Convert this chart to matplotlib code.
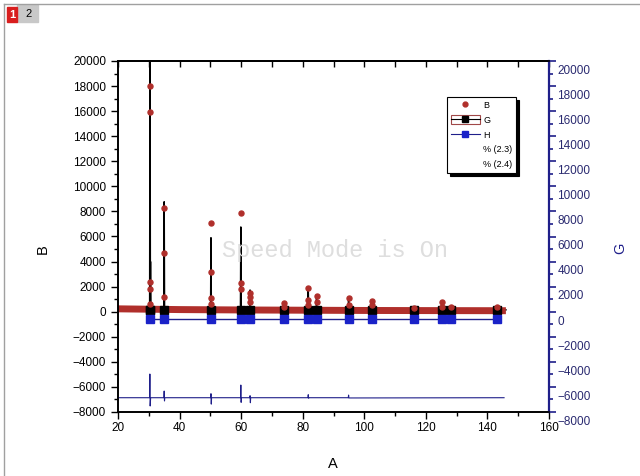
import matplotlib
matplotlib.use("Agg")
import matplotlib.pyplot as plt
from matplotlib.lines import Line2D
from matplotlib.patches import Rectangle, Patch
from matplotlib.legend_handler import HandlerTuple
from matplotlib.transforms import ScaledTranslation

plt.rcParams['font.family'] = ['Liberation Sans', 'DejaVu Sans']

# background level of the observed pattern (B)
bg_x = [20, 30, 40, 60, 80, 100, 120, 146]
bg_y = [230, 200, 170, 140, 120, 100, 90, 80]

# observed points at the reflections (B)
obs_x = [30.4, 30.4, 30.5, 30.5, 30.4,
         35.0, 35.0, 35.0,
         50.2, 50.2, 50.2, 50.2,
         59.9, 59.9, 59.9,
         62.9, 62.9, 62.9,
         73.8, 73.8,
         81.8, 81.8, 81.8,
         84.5, 84.5,
         94.9, 94.9,
         102.6, 102.6,
         116.2,
         125.3, 125.3,
         128.2,
         143.2]
obs_y = [18030, 15950, 2370, 1810, 600,
         8270, 4680, 1200,
         7070, 3170, 1090, 610,
         7870, 2290, 1810,
         1500, 1170, 770,
         720, 400,
         1860, 930, 530,
         1280, 800,
         1070, 530,
         880, 530,
         300,
         800, 400,
         400,
         400]

# calculated pattern (G): reflection positions and heights
peak_pos = [30.4, 30.55, 35.0, 50.2, 59.9, 62.9, 73.8, 81.8, 84.5, 94.9,
            102.6, 116.2, 125.3, 128.2, 143.2]
peak_calc = [21500, 4000, 8770, 5900, 6760, 1730, 700, 1800, 1330, 900,
             700, 250, 700, 400, 350]
calc_base = 150

# reflection markers (H)
hkl_pos = [30.4, 35.0, 50.2, 59.9, 62.9, 73.8, 81.8, 84.5, 94.9, 102.6,
           116.2, 125.3, 128.2, 143.2]
hkl_level = -610

# difference curve
diff_x = [20, 30.25, 30.35, 30.45, 30.6, 34.9, 35.0, 35.1, 35.2,
          50.1, 50.2, 50.3, 50.4, 59.8, 59.9, 60.0, 60.1,
          62.8, 62.9, 63.0, 63.1, 81.7, 81.8, 81.9, 82.0,
          94.8, 94.9, 95.0, 145.4]
diff_y = [-6860, -6860, -4970, -7520, -6860, -6860, -6330, -7120, -6860,
          -6860, -6540, -7370, -6860, -6860, -5850, -7230, -6860,
          -6860, -6700, -7260, -6860, -6860, -6620, -6900, -6860,
          -6860, -6650, -6880, -6860]

red = '#b02f2b'
navy = '#1f1f8a'
blue = '#1a22c8'

fig = plt.figure(figsize=(6.4, 4.76), dpi=100)
ax = fig.add_axes([118 / 640, 64 / 476, 431 / 640, 351 / 476])
ax2 = ax.twinx()

# G line built from the reflection list
calc_x, calc_y = [bg_x[0]], [calc_base]
for p, h in zip(peak_pos, peak_calc):
    calc_x += [p - 0.12, p, p + 0.12]
    calc_y += [calc_base, h, calc_base]
calc_x.append(bg_x[-1])
calc_y.append(calc_base)

ax.plot(calc_x, calc_y, color='black', lw=1.1, zorder=2)
ax.plot(bg_x, bg_y, color=red, lw=5, solid_capstyle='butt', zorder=2.5)
ax.plot(peak_pos, [calc_base] * len(peak_pos), ls='none', marker='s', ms=5.5,
        color='black', zorder=3)
ax.plot(obs_x, obs_y, ls='none', marker='o', ms=3.6, color=red, zorder=4)
ax.plot(hkl_pos, [hkl_level] * len(hkl_pos), color=navy, lw=1, marker='s',
        ms=6, mfc=blue, mec=blue, zorder=3)
ax.plot(diff_x, diff_y, color=navy, lw=0.8, zorder=3)

ax.set_xlim(20, 160)
ax.set_ylim(-8000, 20000)
ax2.set_ylim(-8000, 20000)

ax.set_xticks(range(20, 161, 20))
ax.set_xticks(range(30, 160, 20), minor=True)
ax.set_yticks(range(-8000, 20001, 2000))
ax.set_yticks(range(-7000, 20000, 2000), minor=True)
ax2.set_yticks(range(-8000, 20001, 2000))
ax2.set_yticks(range(-7000, 20000, 2000), minor=True)

ax.tick_params(axis='both', which='major', direction='out', length=5,
               width=1, labelsize=8.5, colors='black')
ax.tick_params(axis='both', which='minor', direction='out', length=3, width=1)
ax.tick_params(axis='x', pad=2)
ax2.tick_params(axis='y', which='major', direction='out', length=5, width=1.2,
                colors=navy, labelsize=8.5, labelcolor='#2a2a70', pad=1)
ax2.tick_params(axis='y', which='minor', direction='out', length=3, width=1.2,
                colors=navy)
for lab in ax2.get_yticklabels():
    lab.set_transform(lab.get_transform() +
                      ScaledTranslation(0, -6 / 72, fig.dpi_scale_trans))

top = ax.secondary_xaxis('top')
top.set_xticks(range(20, 161, 10))
top.tick_params(direction='in', length=4, width=1, labeltop=False)

for s in ax.spines.values():
    s.set_linewidth(1.2)
for s in ax2.spines.values():
    s.set_linewidth(1.2)
ax2.spines['right'].set_color(navy)
ax2.spines['right'].set_linewidth(1.6)
top.spines['top'].set_linewidth(1.2)

ax.set_xlabel('A', fontsize=10.5)
ax.xaxis.set_label_coords(0.499, -0.127)
ax.set_ylabel('B', fontsize=10.5)
ax.yaxis.set_label_coords(-0.158, 0.464)
ax2.set_ylabel('G', fontsize=10.5, color=navy)
ax2.yaxis.set_label_coords(1.148, 0.467)

# legend
h_b = Line2D([], [], ls='none', marker='o', ms=3.5, color=red)
h_g = (Patch(fc='none', ec='#a04848', lw=0.8),
       Line2D([], [], color='black', lw=0.8, marker='s', ms=5))
h_h = Line2D([], [], color=navy, lw=0.8, marker='s', ms=5,
             mfc=blue, mec=blue)
h_e1 = Line2D([], [], ls='none')
h_e2 = Line2D([], [], ls='none')
leg = ax.legend([h_b, h_g, h_h, h_e1, h_e2],
                ['B', 'G', 'H', '% (2.3)', '% (2.4)'],
                handler_map={tuple: HandlerTuple(ndivide=1, pad=0)},
                loc='upper left', bbox_to_anchor=(447 / 640, 1 - 97 / 476),
                bbox_transform=fig.transFigure, fontsize=6.5,
                frameon=True, fancybox=False, edgecolor='black',
                shadow={'color': 'black', 'alpha': 1}, framealpha=1,
                borderpad=0.4, labelspacing=0.6, handlelength=3.2,
                handleheight=1.1, handletextpad=0.4, borderaxespad=0)
leg.get_frame().set_linewidth(0.8)

# watermark of the program
fig.text(335 / 640, 1 - 250 / 476, 'Speed Mode is On', fontsize=17,
         family='Liberation Mono', color='#dedede', ha='center', va='center')

# window frame and page tabs
fig.add_artist(Line2D([4 / 640, 4 / 640], [0, 1 - 4 / 476], color='#a0a0a0',
                      lw=1, transform=fig.transFigure))
fig.add_artist(Line2D([4 / 640, 1], [1 - 4 / 476, 1 - 4 / 476],
                      color='#a0a0a0', lw=1, transform=fig.transFigure))
fig.add_artist(Rectangle((17 / 640, 1 - 22 / 476), 21 / 640, 17 / 476,
                         color='#c8c8c8', transform=fig.transFigure))
fig.add_artist(Rectangle((7 / 640, 1 - 22 / 476), 10 / 640, 15 / 476,
                         color='#d81e1e', transform=fig.transFigure))
fig.text(12 / 640, 1 - 14.5 / 476, '1', color='white', fontsize=8,
         fontweight='bold', ha='center', va='center')
fig.text(29 / 640, 1 - 14 / 476, '2', color='black', fontsize=8,
         ha='center', va='center')

fig.savefig('out.png', dpi=100)
